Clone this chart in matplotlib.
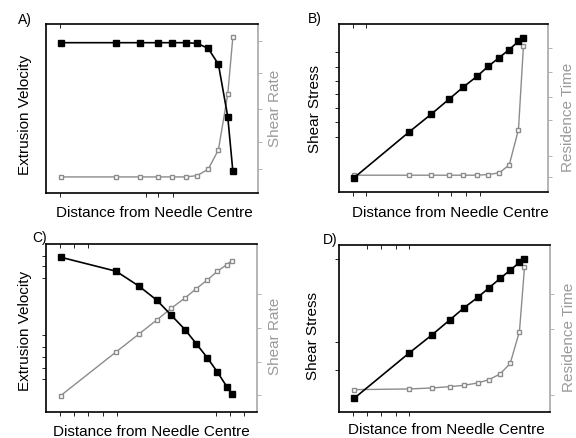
import matplotlib
matplotlib.use('Agg')
import matplotlib.pyplot as plt

plt.rcParams['font.family'] = ['Liberation Sans', 'DejaVu Sans']

# distance from needle centre (normalised, shared by all panels)
distance = [0.07, 0.332, 0.441, 0.526, 0.594, 0.659, 0.713, 0.765, 0.813, 0.857, 0.881]

# A)
a_velocity = [0.890, 0.890, 0.890, 0.890, 0.890, 0.890, 0.886, 0.856, 0.762, 0.453, 0.132]
a_shear_rate = [0.096, 0.096, 0.096, 0.096, 0.096, 0.096, 0.104, 0.142, 0.256, 0.585, 0.921]

# B)
b_shear_stress = [0.083, 0.354, 0.463, 0.552, 0.624, 0.687, 0.747, 0.798, 0.846, 0.895, 0.915]
b_residence = [0.099, 0.099, 0.099, 0.099, 0.099, 0.099, 0.103, 0.113, 0.160, 0.370, 0.869]

# C)
c_velocity = [0.921, 0.838, 0.749, 0.665, 0.576, 0.491, 0.406, 0.323, 0.238, 0.152, 0.109]
c_shear_rate = [0.099, 0.358, 0.465, 0.549, 0.618, 0.679, 0.735, 0.786, 0.838, 0.877, 0.901]

# D)
d_shear_stress = [0.082, 0.354, 0.463, 0.553, 0.626, 0.688, 0.746, 0.801, 0.851, 0.897, 0.917]
d_residence = [0.135, 0.139, 0.145, 0.153, 0.161, 0.175, 0.195, 0.229, 0.292, 0.483, 0.867]

GREY = '#8c8c8c'
LGREY = '#a8a8a8'
FS = 11

panels = [
    dict(rect=[0.080, 0.559, 0.368, 0.386], letter='A)', black=a_velocity, grey=a_shear_rate,
         left='Extrusion Velocity', right='Shear Rate',
         xt=[0.066, 0.47, 0.53, 0.6], tt=[0.066], lt=[], rt=[0.90, 0.71, 0.50, 0.30, 0.14],
         llab=(-0.066, 0.46), rlab=(1.047, 0.5), xlab=(0.51, -0.077), let=(18, 20)),
    dict(rect=[0.589, 0.562, 0.363, 0.384], letter='B)', black=b_shear_stress, grey=b_residence,
         left='Shear Stress', right='Residence Time',
         xt=[0.067, 0.129, 0.474, 0.536, 0.608, 0.675], tt=[0.067, 0.129],
         lt=[0.833, 0.744, 0.661, 0.583, 0.5, 0.417, 0.327],
         rt=[0.857, 0.714, 0.565, 0.429, 0.214, 0.089],
         llab=(-0.081, 0.49), rlab=(1.062, 0.44), xlab=(0.53, -0.083), let=(308, 19)),
    dict(rect=[0.080, 0.059, 0.366, 0.384], letter='C)', black=c_velocity, grey=c_shear_rate,
         left='Extrusion Velocity', right='Shear Rate',
         xt=[0.066, 0.133, 0.199, 0.27, 0.336, 0.806, 0.872, 0.938], tt=[0.066, 0.133, 0.199],
         lt=[0.93, 0.87, 0.80, 0.46, 0.39, 0.33, 0.26, 0.20],
         rt=[0.70, 0.50, 0.30, 0.10],
         llab=(-0.066, 0.48), rlab=(1.052, 0.45), xlab=(0.50, -0.075), let=(32, 238)),
    dict(rect=[0.589, 0.059, 0.365, 0.381], letter='D)', black=d_shear_stress, grey=d_residence,
         left='Shear Stress', right='Residence Time',
         xt=[0.067, 0.133, 0.2, 0.27, 0.333], tt=[0.133, 0.2, 0.27, 0.333],
         lt=[0.92, 0.42, 0.25],
         rt=[0.71, 0.50, 0.10],
         llab=(-0.09, 0.455), rlab=(1.058, 0.45), xlab=(0.51, -0.065), let=(323, 240)),
]

fig = plt.figure(figsize=(5.76, 4.38), dpi=100)

for p in panels:
    ax = fig.add_axes(p['rect'])
    ax2 = ax.twinx()
    ax.set_zorder(ax2.get_zorder() + 1)
    ax.patch.set_visible(False)

    ax2.plot(distance, p['grey'], color=GREY, lw=1.0, marker='s', ms=3.5,
             mfc='white', mec=GREY, mew=1.0)
    ax.plot(distance, p['black'], color='black', lw=1.2, marker='s', ms=4,
            mfc='black', mec='black')

    for a in (ax, ax2):
        a.set_xlim(0, 1)
        a.set_ylim(0, 1)

    ax.set_xticks(p['xt'])
    ax.set_yticks(p['lt'])
    ax2.set_yticks(p['rt'])
    ax.tick_params(axis='both', length=3, width=0.6, labelleft=False, labelbottom=False)
    ax2.tick_params(axis='y', length=3, width=0.6, color=LGREY, labelright=False)

    # a few short ticks hanging from the top frame
    top = ax.secondary_xaxis('top')
    top.set_xticks(p['tt'])
    top.tick_params(length=3, width=0.6, direction='in', labeltop=False)
    top.spines['top'].set_visible(False)

    for s in ['left', 'bottom', 'top']:
        ax.spines[s].set_linewidth(1.2)
        ax.spines[s].set_color('black')
    ax.spines['right'].set_visible(False)
    for s in ['left', 'bottom', 'top']:
        ax2.spines[s].set_visible(False)
    ax2.spines['right'].set_color(LGREY)
    ax2.spines['right'].set_linewidth(1.2)

    ax.set_ylabel(p['left'], fontsize=FS)
    ax.yaxis.set_label_coords(*p['llab'])
    ax2.set_ylabel(p['right'], fontsize=FS, color='#9a9a9a')
    ax2.yaxis.set_label_coords(*p['rlab'])
    ax.set_xlabel('Distance from Needle Centre', fontsize=FS)
    ax.xaxis.set_label_coords(*p['xlab'])

    lx, ly = p['let']
    fig.text(lx / 576, 1 - ly / 438, p['letter'], fontsize=10, va='center', ha='left')

fig.savefig('out.png', dpi=100)
